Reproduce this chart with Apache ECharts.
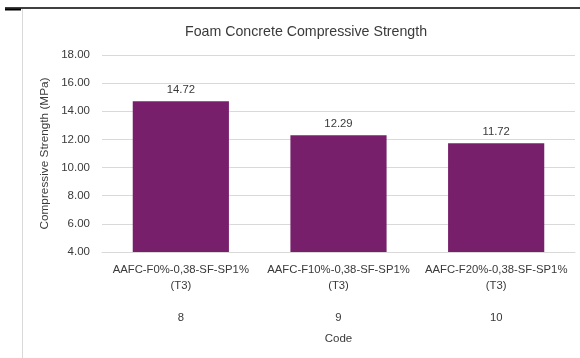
<!DOCTYPE html>
<html>
<head>
<meta charset="utf-8">
<script src="https://cdn.jsdelivr.net/npm/echarts@6/dist/echarts.min.js"></script>
<style>
  html, body { margin: 0; padding: 0; background: #fff; }
  #chart { width: 580px; height: 358px; }
</style>
</head>
<body>
<div id="chart"></div>
<script>
// Mix designs, their sample codes and measured compressive strength (MPa)
const mixNames = ['AAFC-F0%-0,38-SF-SP1%', 'AAFC-F10%-0,38-SF-SP1%', 'AAFC-F20%-0,38-SF-SP1%'];
const curing = ['(T3)', '(T3)', '(T3)'];
const codes = ['8', '9', '10'];
const strength = [14.72, 12.29, 11.72];
const yTicks = { min: 4, max: 18, step: 2 };

const categories = mixNames.map((m, i) => m + '\n' + curing[i] + '\n\n' + codes[i]);

const FONT = 'Liberation Sans';
const TEXT = '#3a3a3a';
const chart = echarts.init(document.getElementById('chart'), null, { renderer: 'canvas' });

chart.setOption({
  animation: false,
  backgroundColor: '#ffffff',
  textStyle: { fontFamily: FONT },
  title: {
    text: 'Foam Concrete Compressive Strength',
    left: 180,
    top: 20,
    textStyle: { fontFamily: FONT, fontSize: 14.2, fontWeight: 'normal', color: TEXT }
  },
  graphic: [
    { type: 'line', shape: { x1: 5, y1: 8, x2: 580, y2: 8 }, style: { stroke: '#000', lineWidth: 1.5 } },
    { type: 'line', shape: { x1: 5, y1: 9.5, x2: 21, y2: 9.5 }, style: { stroke: '#000', lineWidth: 2 } },
    { type: 'line', shape: { x1: 22.5, y1: 9, x2: 22.5, y2: 358 }, style: { stroke: '#d9d9d9', lineWidth: 1 } }
  ],
  grid: { left: 102, right: 5, top: 55, bottom: 106, containLabel: false },
  xAxis: {
    type: 'category',
    data: categories,
    name: 'Code',
    nameLocation: 'middle',
    nameGap: 81,
    nameTextStyle: { fontFamily: FONT, fontSize: 11.5, color: TEXT },
    axisLine: { lineStyle: { color: '#d9d9d9', width: 1 } },
    axisTick: { show: false },
    axisLabel: { fontFamily: FONT, fontSize: 11.3, color: TEXT, lineHeight: 16, margin: 10, interval: 0 }
  },
  yAxis: {
    type: 'value',
    min: yTicks.min,
    max: yTicks.max,
    interval: yTicks.step,
    name: 'Compressive Strength (MPa)',
    nameLocation: 'middle',
    nameGap: 44,
    nameTextStyle: { fontFamily: FONT, fontSize: 11.8, color: TEXT },
    axisLine: { show: false },
    axisTick: { show: false },
    splitLine: { lineStyle: { color: '#d9d9d9', width: 1 } },
    axisLabel: { fontFamily: FONT, fontSize: 11.5, color: TEXT, margin: 12, formatter: v => v.toFixed(2) }
  },
  series: [{
    type: 'bar',
    data: strength,
    barWidth: '61%',
    itemStyle: { color: '#781F6B' },
    label: {
      show: true,
      position: 'top',
      distance: 6,
      fontFamily: FONT,
      fontSize: 11.3,
      color: TEXT,
      formatter: p => p.value.toFixed(2)
    }
  }]
});
</script>
</body>
</html>
